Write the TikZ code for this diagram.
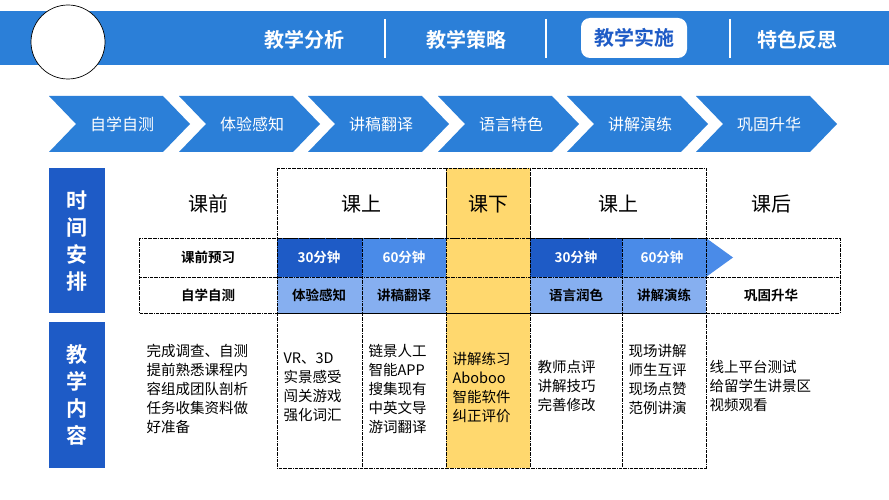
\documentclass[tikz,border=0pt]{standalone}
\usepackage{fontspec}
\setmainfont{Noto Sans CJK SC}[BoldFont={Noto Sans CJK SC Bold}]
\usetikzlibrary{positioning}
\definecolor{barblue}{HTML}{2B7FD8}
\definecolor{darkblue}{HTML}{1E5BC6}
\definecolor{midblue}{HTML}{4A8BE8}
\definecolor{lightblue}{HTML}{86AFF0}
\definecolor{classyellow}{HTML}{FFD86E}
\begin{document}
\begin{tikzpicture}[
    x = 1pt, y = -1pt,
    %
    tab/.style = {font = \fontsize{20}{20}\selectfont\bfseries, text = white},
    chev/.style = {fill = barblue, draw = none},
    chevtext/.style = {font = \fontsize{16}{16}\selectfont, text = white},
    cell/.style = {draw = black, densely dashdotted, line width = 0.6pt},
    head/.style = {font = \fontsize{20}{20}\selectfont},
    rowtext/.style = {font = \fontsize{13.5}{13.5}\selectfont\bfseries},
    content/.style = {font = \fontsize{14.5}{19}\selectfont, align = left},
    side/.style = {fill = darkblue, text = white,
      font = \fontsize{21}{27}\selectfont\bfseries, align = center},
    ]

    \useasboundingbox (0, 0) rectangle (889, 500);
    \fill [white] (0, 0) rectangle (889, 500);

    % header bar
    \fill [barblue] (0, 11) rectangle (889, 65);
    \draw [fill = white, line width = 0.7pt] (68, 42) ellipse [x radius = 37, y radius = 37];
    \node [tab] (t_ana) at (304, 40) {教学分析};
    \node [tab] (t_str) at (466, 40) {教学策略};
    \node [fill = white, rounded corners = 9pt, minimum width = 106, minimum height = 40,
      font = \fontsize{20}{20}\selectfont\bfseries, text = darkblue] (t_imp) at (634, 38) {教学实施};
    \node [tab] (t_ref) at (797, 40) {特色反思};
    \foreach \sx in {385, 546, 730}
      \draw [white, line width = 1.5pt] (\sx, 19) -- (\sx, 58);

    % process chevrons
    \foreach \cx/\ctext [count = \i] in {49/自学自测, 179/体验感知, 308/讲稿翻译,
        438/语言特色, 567/讲解演练, 696/巩固升华} {
      \fill [chev] (\cx, 96) -- (\cx + 114, 96) -- (\cx + 141, 124)
        -- (\cx + 114, 152) -- (\cx, 152) -- (\cx + 27, 124) -- cycle;
      \node [chevtext] (c\i) at (\cx + 73, 124) {\ctext};
    }

    % side labels
    \node [side, minimum width = 56, minimum height = 145, anchor = north west]
      (s_time) at (49, 168) {时\\间\\安\\排};
    \node [side, minimum width = 56, minimum height = 146, anchor = north west]
      (s_cont) at (49, 322) {教\\学\\内\\容};

    % fills
    \fill [classyellow] (446, 168) rectangle (530, 468);
    \fill [darkblue] (277, 238) rectangle (362, 277);
    \fill [midblue] (362, 238) rectangle (446, 277);
    \fill [darkblue] (530, 238) rectangle (622, 277);
    \fill [midblue] (622, 238) -- (706, 238) -- (733, 257.5) -- (706, 277) -- (622, 277) -- cycle;
    \fill [lightblue] (277, 277) rectangle (446, 313);
    \fill [lightblue] (530, 277) rectangle (706, 313);

    % dashed grid
    \draw [cell] (277, 168) rectangle (446, 238);
    \draw [cell] (446, 168) rectangle (530, 238);
    \draw [cell] (530, 168) rectangle (706, 238);
    \draw [cell] (139, 238) rectangle (840, 313);
    \draw [cell] (139, 277) -- (840, 277);
    \foreach \gx in {277, 362, 446, 530, 622, 706}
      \draw [cell] (\gx, 238) -- (\gx, 313);
    \draw [cell] (277, 313) rectangle (706, 468);
    \foreach \gx in {362, 446, 530, 622}
      \draw [cell] (\gx, 313) -- (\gx, 468);

    % column heads
    \node [head] (h_pre) at (208, 204) {课前};
    \node [head] (h_in1) at (361, 204) {课上};
    \node [head] (h_out) at (488, 204) {课下};
    \node [head] (h_in2) at (618, 204) {课上};
    \node [head] (h_post) at (771, 204) {课后};

    % time row
    \node [rowtext] (r_pre) at (208, 257.5) {课前预习};
    \node [rowtext, text = white] (r_30a) at (319, 257.5) {30分钟};
    \node [rowtext, text = white] (r_60a) at (404, 257.5) {60分钟};
    \node [rowtext, text = white] (r_30b) at (576, 257.5) {30分钟};
    \node [rowtext, text = white] (r_60b) at (662, 257.5) {60分钟};

    % activity row
    \node [rowtext] (a_1) at (208, 295) {自学自测};
    \node [rowtext] (a_2) at (319, 295) {体验感知};
    \node [rowtext] (a_3) at (404, 295) {讲稿翻译};
    \node [rowtext] (a_4) at (576, 295) {语言润色};
    \node [rowtext] (a_5) at (664, 295) {讲解演练};
    \node [rowtext] (a_6) at (771, 295) {巩固升华};

    % contents
    \node [content, anchor = north west] (k_1) at (143, 341)
      {完成调查、自测\\提前熟悉课程内\\容组成团队剖析\\任务收集资料做\\好准备};
    \node [content, anchor = north west] (k_2) at (280, 349)
      {VR、3D\\实景感受\\闯关游戏\\强化词汇};
    \node [content, anchor = north west] (k_3) at (365, 341)
      {链景人工\\智能APP\\搜集现有\\中英文导\\游词翻译};
    \node [content, anchor = north west] (k_4) at (449, 349)
      {讲解练习\\Aboboo\\智能软件\\纠正评价};
    \node [content, anchor = north west] (k_5) at (534, 357)
      {教师点评\\讲解技巧\\完善修改};
    \node [content, anchor = north west] (k_6) at (625, 341)
      {现场讲解\\师生互评\\现场点赞\\范例讲演};
    \node [content, anchor = north west] (k_7) at (706, 357)
      {线上平台测试\\给留学生讲景区\\视频观看};

  \end{tikzpicture}
\end{document}
